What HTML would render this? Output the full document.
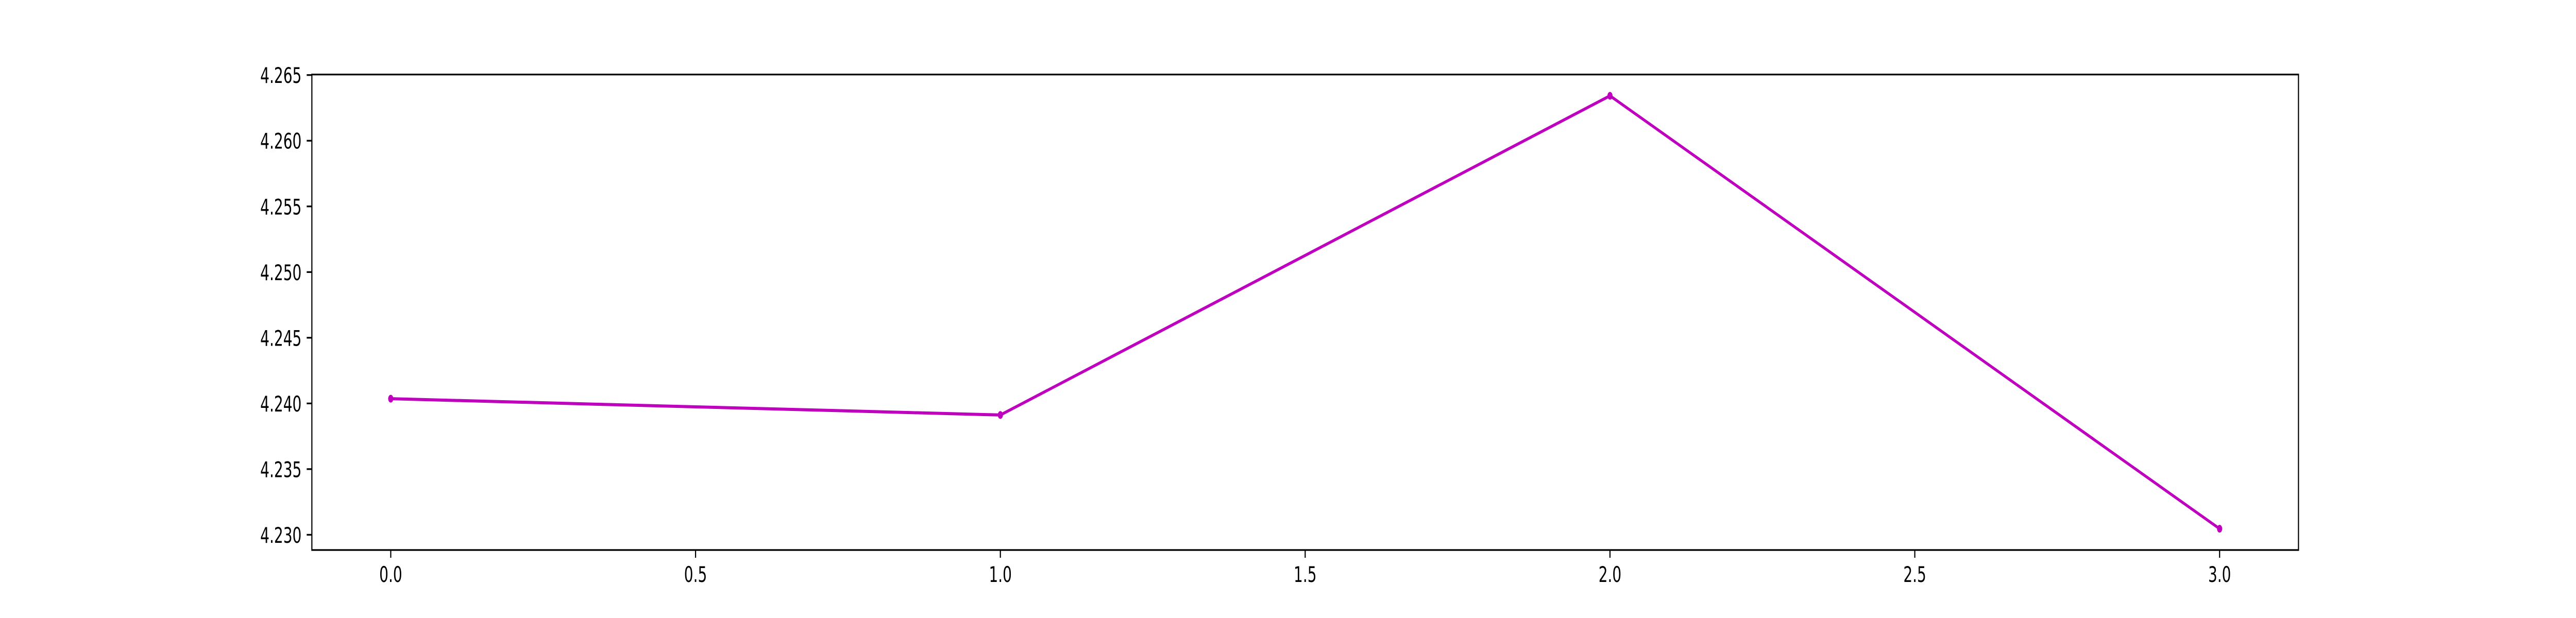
<!DOCTYPE html>
<html><head><meta charset="utf-8"><meta name="viewport" content="width=7500">
<style>
html,body{margin:0;padding:0;background:#fff;width:100%;height:100%;overflow:hidden}
svg{display:block;width:100vw;height:100vh}
svg text{font-family:"DejaVu Sans","Liberation Sans",sans-serif;font-size:42px;fill:#000}
</style></head><body>
<svg id="chart" viewBox="0 0 7500 1200" preserveAspectRatio="none" xmlns="http://www.w3.org/2000/svg">
<g id="marks"></g>
<rect x="908" y="144.7" width="5784" height="923.3" fill="none" stroke="#000" stroke-width="3.3"/>
<g id="axes"></g>
</svg>
<script>
const xValues = [0, 1, 2, 3];
const yValues = [4.24036, 4.23912, 4.26342, 4.23046];
const xTicks = [0.0, 0.5, 1.0, 1.5, 2.0, 2.5, 3.0];
const yTicks = [4.230, 4.235, 4.240, 4.245, 4.250, 4.255, 4.260, 4.265];

const NS = 'http://www.w3.org/2000/svg';
const X0 = 908, X1 = 6692, Y0 = 144.7, Y1 = 1068;
const xMin = -0.1294, xMax = 3.1294, yMin = 4.22884, yMax = 4.26504;
function sx(v){ return X0 + (v - xMin) / (xMax - xMin) * (X1 - X0); }
function sy(v){ return Y1 - (v - yMin) / (yMax - yMin) * (Y1 - Y0); }
function mk(tag, attrs){ const e = document.createElementNS(NS, tag); for (const k in attrs) e.setAttribute(k, attrs[k]); return e; }

const marks = document.getElementById('marks');
const axes = document.getElementById('axes');

const pts = xValues.map((x, i) => sx(x) + ',' + sy(yValues[i])).join(' ');
const line = mk('polyline', {points: pts, fill: 'none', stroke: '#bf00bf', 'stroke-width': 6, 'stroke-linejoin': 'round'});


marks.appendChild(line);
xValues.forEach((x, i) => {
  const c = mk('circle', {cx: sx(x), cy: sy(yValues[i]), r: 7.5, fill: '#bf00bf'});
  
  
  marks.appendChild(c);
});

xTicks.forEach(t => {
  const x = sx(t);
  const tk = mk('line', {x1: x, x2: x, y1: Y1, y2: Y1 + 15, stroke: '#000', 'stroke-width': 3.3});
  
  
  axes.appendChild(tk);
  const tx = mk('text', {x: x, y: 1130, 'text-anchor': 'middle'});
  
  
  tx.textContent = t.toFixed(1);
  axes.appendChild(tx);
});
yTicks.forEach(t => {
  const y = sy(t);
  const tk = mk('line', {x1: X0 - 15, x2: X0, y1: y, y2: y, stroke: '#000', 'stroke-width': 3.3});
  
  
  axes.appendChild(tk);
  const tx = mk('text', {x: 878, y: y + 15.5, 'text-anchor': 'end'});
  
  
  tx.textContent = t.toFixed(3);
  axes.appendChild(tx);
});
</script>
</body></html>
